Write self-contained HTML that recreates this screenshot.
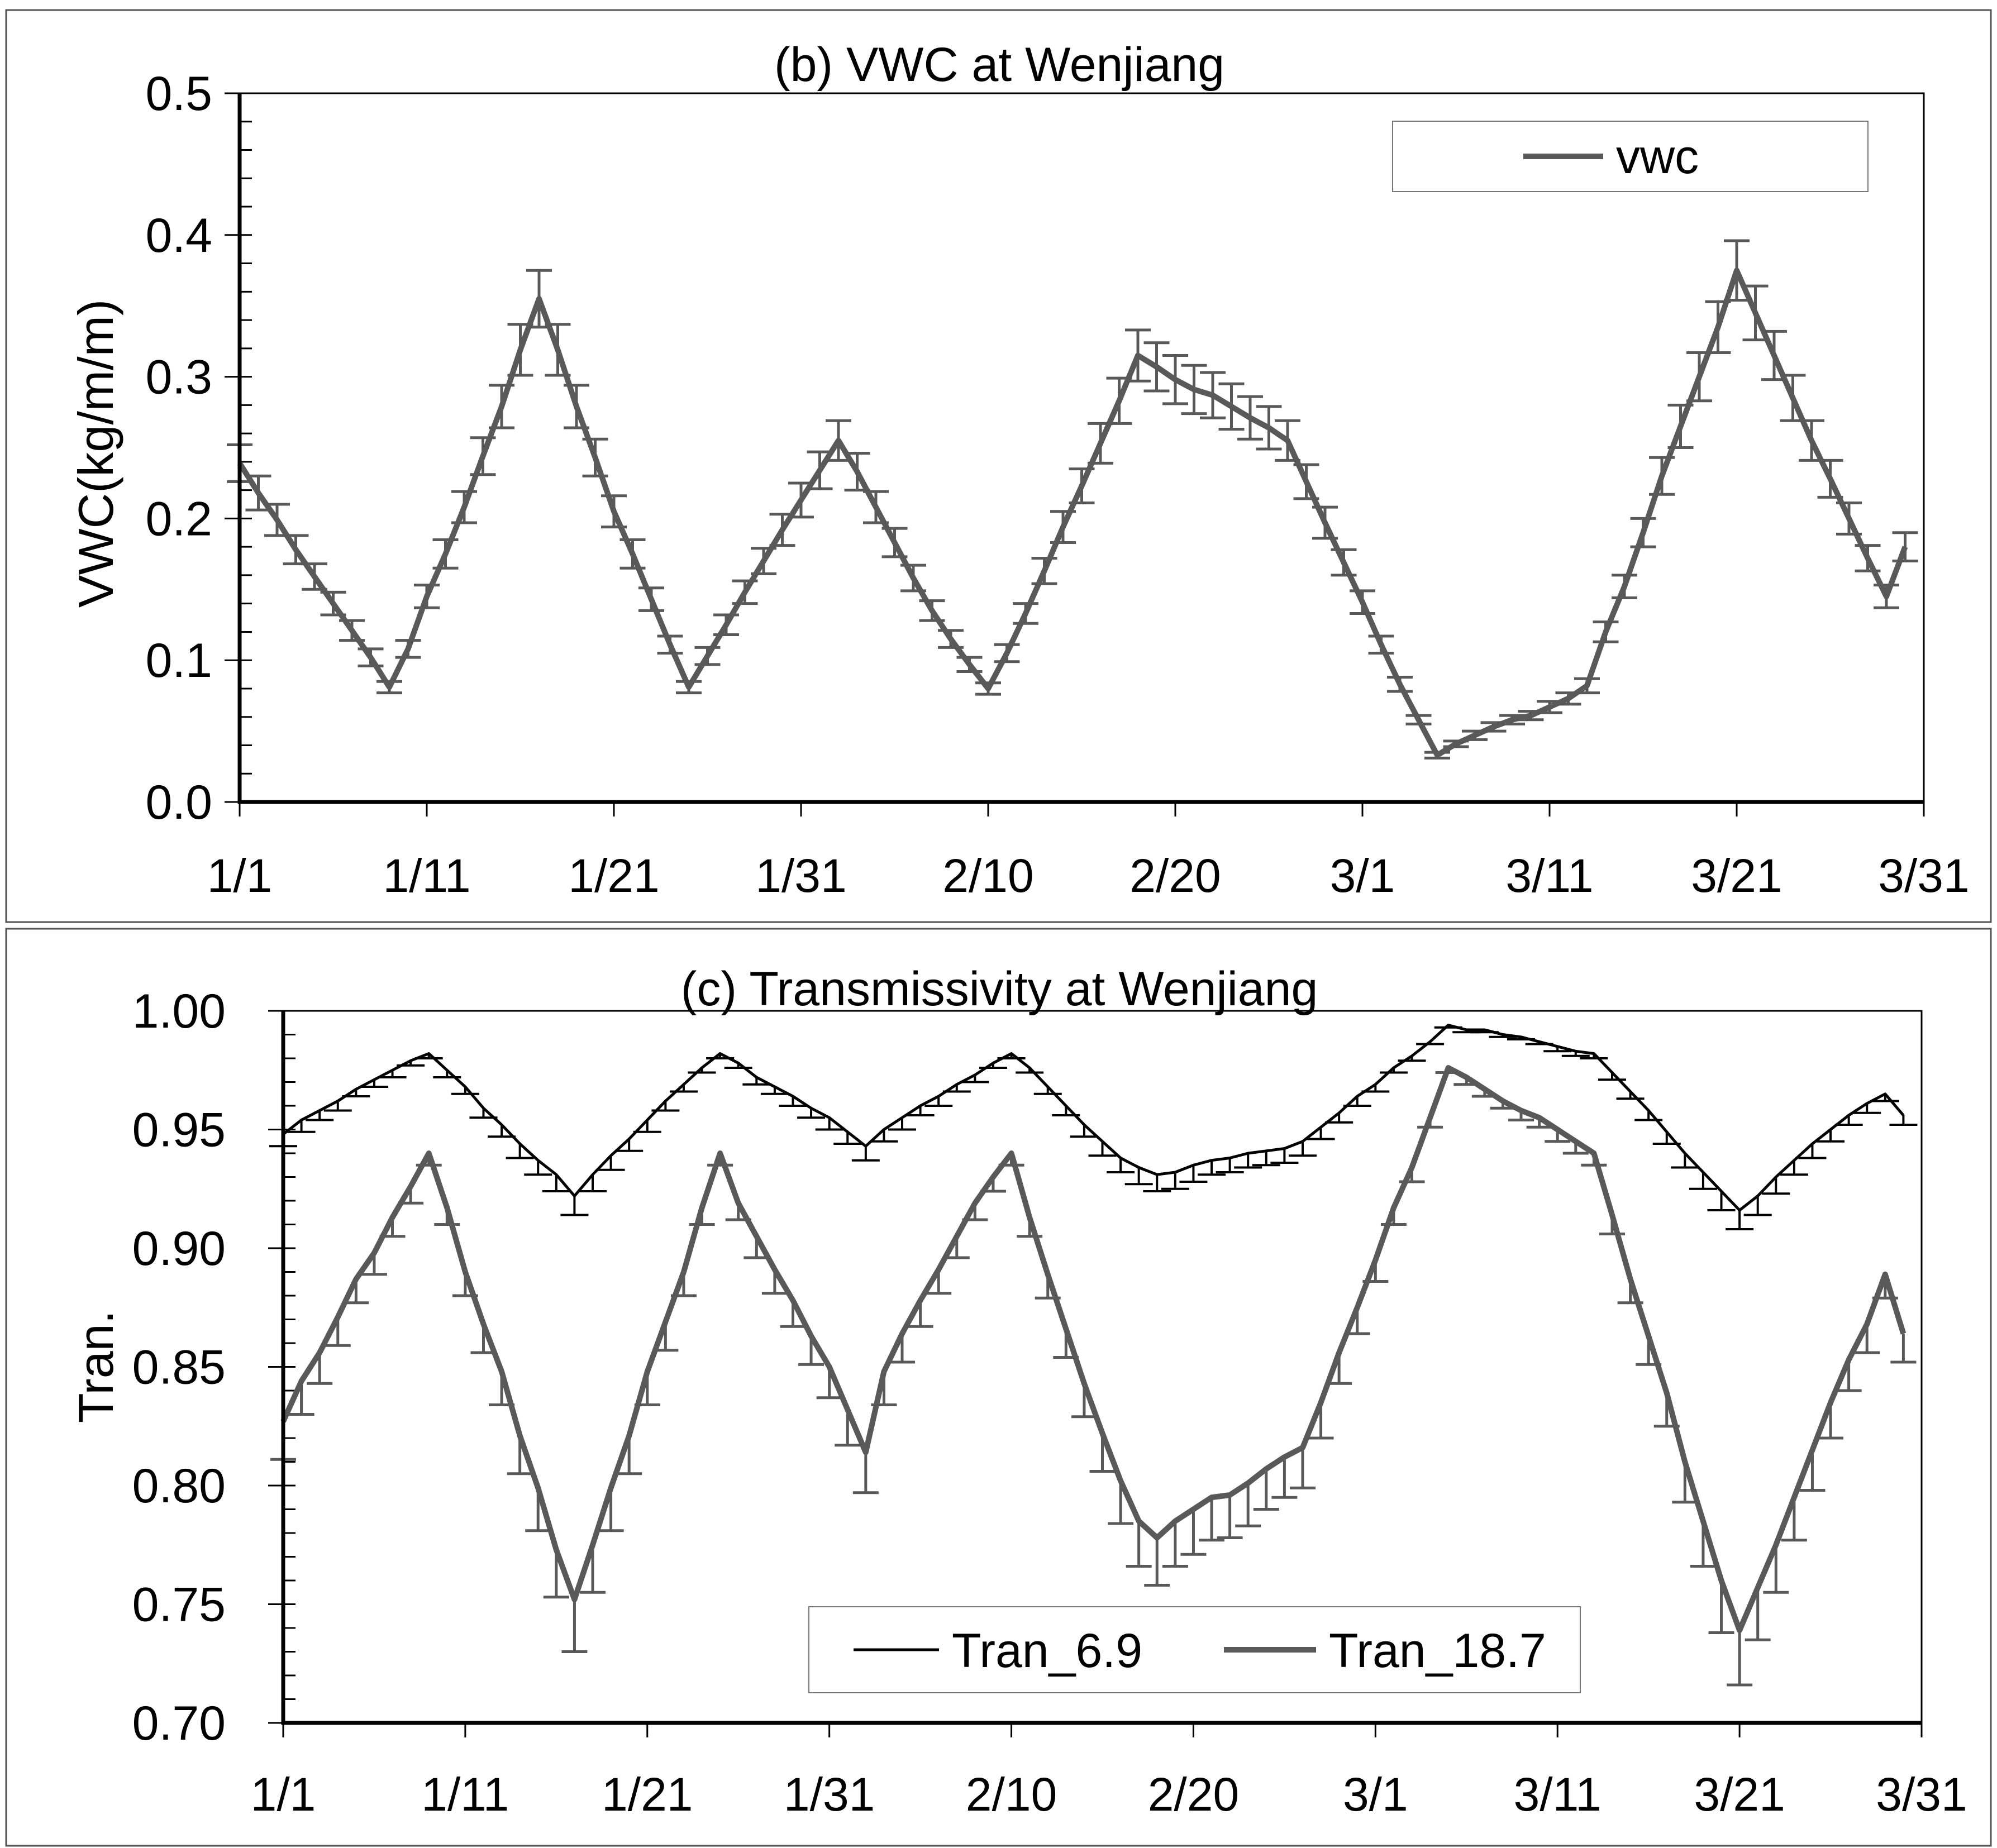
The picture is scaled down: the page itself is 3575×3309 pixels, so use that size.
<!DOCTYPE html>
<html><head><meta charset="utf-8">
<style>
html,body{margin:0;padding:0;background:#fff;}
svg{display:block;font-family:"Liberation Sans",Arial,sans-serif;}
</style></head>
<body>
<svg id="chart" width="3575" height="3309" viewBox="0 0 3575 3309" xmlns="http://www.w3.org/2000/svg">
<rect x="11" y="18" width="3553" height="1633" fill="none" stroke="#555" stroke-width="3"/>
<rect x="11" y="1663" width="3553" height="1642" fill="none" stroke="#555" stroke-width="3"/>
<text x="1789" y="145" font-size="86" text-anchor="middle">(b) VWC at Wenjiang</text>
<text x="1789" y="1800" font-size="86" text-anchor="middle">(c) Transmissivity at Wenjiang</text>
<text transform="translate(202,812) rotate(-90)" font-size="88" text-anchor="middle">VWC(kg/m/m)</text>
<text transform="translate(202,2447) rotate(-90)" font-size="88" text-anchor="middle">Tran.</text>
<g id="top"></g>
<g id="bot"></g>
<g>
<rect x="2493" y="217" width="851" height="126" fill="#fff" stroke="#777" stroke-width="2"/>
<line x1="2727" y1="280" x2="2870" y2="280" stroke="#595959" stroke-width="10"/>
<text x="2893" y="310" font-size="86">vwc</text>
</g>
<g>
<rect x="1448" y="2877" width="1381" height="154" fill="#fff" stroke="#777" stroke-width="2"/>
<line x1="1528" y1="2954" x2="1681" y2="2954" stroke="#000" stroke-width="5"/>
<text x="1704" y="2985" font-size="86">Tran_6.9</text>
<line x1="2191" y1="2954" x2="2356" y2="2954" stroke="#595959" stroke-width="10"/>
<text x="2379" y="2985" font-size="86">Tran_18.7</text>
</g>
</svg>
<script>
const xLabels = ["1/1","1/11","1/21","1/31","2/10","2/20","3/1","3/11","3/21","3/31"];
const vwcTicks = ["0.0","0.1","0.2","0.3","0.4","0.5"];
const tranTicks = ["0.70","0.75","0.80","0.85","0.90","0.95","1.00"];
const vwc = [0.239,0.218,0.199,0.178,0.159,0.140,0.121,0.102,0.081,
0.108,0.145,0.175,0.208,0.244,0.279,0.319,0.355,
0.319,0.279,0.243,0.205,0.175,0.143,0.111,0.081,
0.103,0.125,0.148,0.170,0.192,0.213,0.234,0.255,
0.233,0.208,0.183,0.158,0.135,0.115,0.097,0.080,
0.105,0.133,0.163,0.194,0.223,0.253,0.283,0.315,
0.307,0.298,0.291,0.287,0.279,0.271,0.264,0.255,
0.226,0.197,0.169,0.141,0.111,0.083,0.058,0.033,
0.041,0.047,0.053,0.058,0.061,0.067,0.073,0.082,
0.120,0.152,0.190,0.230,0.265,0.300,0.335,0.375,
0.345,0.315,0.285,0.255,0.228,0.200,0.172,0.145,0.180];
const vwcErr = [0.013,0.012,0.011,0.010,0.009,0.008,0.007,0.006,0.004,
0.006,0.008,0.010,0.011,0.013,0.015,0.018,0.020,
0.018,0.015,0.013,0.011,0.010,0.008,0.006,0.004,
0.006,0.007,0.008,0.009,0.011,0.012,0.013,0.014,
0.013,0.011,0.010,0.009,0.007,0.006,0.005,0.004,
0.006,0.007,0.009,0.011,0.012,0.014,0.016,0.018,
0.017,0.017,0.017,0.016,0.016,0.015,0.015,0.014,
0.012,0.011,0.009,0.008,0.006,0.005,0.003,0.002,
0.002,0.003,0.003,0.003,0.003,0.004,0.004,0.005,
0.007,0.008,0.010,0.013,0.015,0.017,0.018,0.021,
0.019,0.017,0.016,0.014,0.013,0.011,0.009,0.008,0.010];
const tran187 = [0.827,0.844,0.856,0.871,0.887,0.898,0.913,0.926,0.940,
0.917,0.890,0.868,0.848,0.821,0.799,0.773,0.752,
0.775,0.799,0.821,0.848,0.869,0.890,0.917,0.940,
0.919,0.905,0.891,0.878,0.863,0.850,0.832,0.814,
0.848,0.864,0.878,0.891,0.905,0.919,0.930,0.940,
0.913,0.889,0.866,0.843,0.822,0.802,0.785,0.778,
0.785,0.790,0.795,0.796,0.801,0.807,0.812,0.816,
0.835,0.856,0.875,0.895,0.917,0.934,0.955,0.976,
0.972,0.967,0.962,0.958,0.955,0.950,0.945,0.940,
0.914,0.887,0.863,0.839,0.810,0.785,0.760,0.739,
0.757,0.775,0.795,0.815,0.835,0.853,0.868,0.889,0.864];
const tran187Err = [0.016,0.014,0.013,0.012,0.010,0.009,0.008,0.007,0.005,
0.007,0.010,0.012,0.014,0.016,0.018,0.020,0.022,
0.020,0.018,0.016,0.014,0.012,0.010,0.007,0.005,
0.007,0.009,0.010,0.011,0.012,0.013,0.015,0.017,
0.014,0.012,0.011,0.010,0.009,0.007,0.006,0.005,
0.008,0.010,0.012,0.014,0.016,0.018,0.019,0.020,
0.019,0.019,0.018,0.018,0.018,0.017,0.017,0.017,
0.015,0.013,0.011,0.009,0.007,0.006,0.004,0.002,
0.003,0.003,0.003,0.004,0.004,0.005,0.005,0.005,
0.008,0.010,0.012,0.014,0.017,0.019,0.022,0.023,
0.022,0.020,0.018,0.017,0.015,0.013,0.012,0.010,0.012];
const tran69 = [0.948,0.954,0.958,0.962,0.967,0.971,0.975,0.979,0.982,
0.975,0.968,0.959,0.952,0.944,0.937,0.931,0.922,
0.931,0.939,0.946,0.954,0.962,0.969,0.976,0.982,
0.978,0.972,0.968,0.964,0.959,0.955,0.949,0.943,
0.950,0.955,0.960,0.964,0.969,0.973,0.978,0.982,
0.976,0.968,0.960,0.952,0.945,0.938,0.934,0.931,
0.932,0.935,0.937,0.938,0.940,0.941,0.942,0.945,
0.951,0.957,0.964,0.969,0.976,0.981,0.987,0.994,
0.992,0.992,0.990,0.989,0.987,0.985,0.983,0.982,
0.974,0.966,0.958,0.949,0.940,0.932,0.924,0.916,
0.922,0.930,0.937,0.944,0.950,0.956,0.961,0.965,0.956];
const tran69Err = [0.005,0.005,0.004,0.004,0.003,0.003,0.003,0.002,0.002,
0.003,0.003,0.004,0.005,0.006,0.006,0.007,0.008,
0.007,0.006,0.005,0.005,0.004,0.003,0.002,0.002,
0.002,0.003,0.003,0.004,0.004,0.005,0.005,0.006,
0.005,0.005,0.004,0.004,0.003,0.003,0.002,0.002,
0.002,0.003,0.004,0.005,0.006,0.006,0.007,0.007,
0.007,0.007,0.006,0.006,0.006,0.006,0.006,0.006,
0.005,0.004,0.004,0.003,0.002,0.002,0.001,0.001,
0.001,0.001,0.001,0.001,0.001,0.002,0.002,0.002,
0.003,0.003,0.004,0.005,0.006,0.007,0.008,0.008,
0.008,0.007,0.006,0.006,0.005,0.004,0.004,0.003,0.004];

const NS = "http://www.w3.org/2000/svg";
function mk(parent, tag, attrs){
  const e = document.createElementNS(NS, tag);
  for (const k in attrs) e.setAttribute(k, attrs[k]);
  parent.appendChild(e);
  return e;
}
function drawPanel(g, cfg){
  const L=cfg.left,R=cfg.right,T=cfg.top,B=cfg.bottom;
  const xs = i => L + i*(R-L)/90;
  const ys = v => B - (v-cfg.min)/(cfg.max-cfg.min)*(B-T);
  const fr = mk(g,'rect',{x:L,y:T,width:R-L,height:B-T,fill:'none',stroke:'#000','stroke-width':3});
  
  
  for (let v=cfg.min; v<=cfg.max+1e-9; v+=cfg.minor){
    const t = mk(g,'line',{x1:L,x2:L+22,y1:ys(v),y2:ys(v),stroke:'#000','stroke-width':3});
    
    
  }
  cfg.ticks.forEach((lab,k)=>{
    const v = cfg.min + k*cfg.major;
    const t = mk(g,'line',{x1:L-27,x2:L,y1:ys(v),y2:ys(v),stroke:'#000','stroke-width':3});
    
    
    const tx = mk(g,'text',{x:cfg.labelX,y:ys(v)+30,'font-size':86,'text-anchor':'end'});
    tx.textContent = lab;
    
    
  });
  xLabels.forEach((lab,k)=>{
    const x = xs(k*10);
    const t = mk(g,'line',{x1:x,x2:x,y1:B,y2:B+26,stroke:'#000','stroke-width':3});
    
    
    const tx = mk(g,'text',{x:x,y:cfg.xLabelY,'font-size':84,'text-anchor':'middle'});
    tx.textContent = lab;
    
    
  });
  cfg.series.forEach(s=>{
    const sg = mk(g,'g',{});
    
    
    s.vals.forEach((v,i)=>{
      const x = xs(i), e = s.err[i];
      const lo = ys(v-e), hi = s.both ? ys(v+e) : ys(v);
      const bar = mk(sg,'line',{x1:x,x2:x,y1:hi,y2:lo,stroke:s.color,'stroke-width':s.ew});
      
      
      const c1 = mk(sg,'line',{x1:x-s.cap,x2:x+s.cap,y1:lo,y2:lo,stroke:s.color,'stroke-width':s.ew});
      
      
      if (s.both){
        const c2 = mk(sg,'line',{x1:x-s.cap,x2:x+s.cap,y1:hi,y2:hi,stroke:s.color,'stroke-width':s.ew});
        
        
      }
    });
    const pts = s.vals.map((v,i)=>xs(i).toFixed(1)+','+ys(v).toFixed(1)).join(' ');
    const pl = mk(sg,'polyline',{points:pts,fill:'none',stroke:s.color,'stroke-width':s.lw,'stroke-linejoin':'round'});
    
    
  });
  const ax1 = mk(g,'line',{x1:L,x2:L,y1:T,y2:B+3,stroke:'#000','stroke-width':7});
  
  
  const ax2 = mk(g,'line',{x1:L-3,x2:R,y1:B,y2:B,stroke:'#000','stroke-width':7});
  
  
}
drawPanel(document.getElementById('top'),{
  left:429,right:3444,top:167,bottom:1436,min:0,max:0.5,major:0.1,minor:0.02,
  ticks:vwcTicks,labelX:380,xLabelY:1597,
  series:[{name:'vwc-series',vals:vwc,err:vwcErr,both:true,color:'#595959',lw:10,ew:5,cap:23}]
});
drawPanel(document.getElementById('bot'),{
  left:507,right:3440,top:1810,bottom:3085,min:0.70,max:1.00,major:0.05,minor:0.01,
  ticks:tranTicks,labelX:404,xLabelY:3242,
  series:[
    {name:'tran-18.7-series',vals:tran187,err:tran187Err,both:false,color:'#595959',lw:10,ew:5,cap:23},
    {name:'tran-6.9-series',vals:tran69,err:tran69Err,both:false,color:'#000',lw:5,ew:4,cap:25}
  ]
});
</script>
</body></html>
